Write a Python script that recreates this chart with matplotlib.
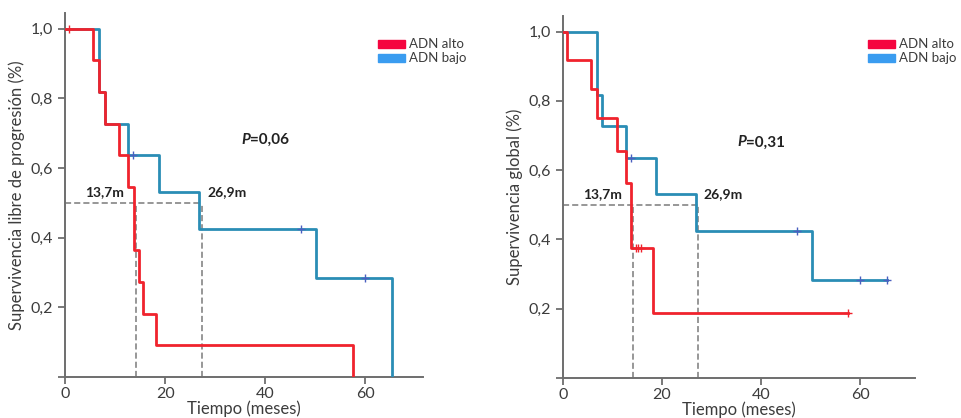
import numpy as np
import matplotlib
matplotlib.use('Agg')
import matplotlib.pyplot as plt
from matplotlib.patches import Rectangle

plt.rcParams['font.family'] = ['Lato', 'DejaVu Sans']

# ---- data (months, survival fraction) ----
# progression-free survival
pfs_alto_t = [0, 5.5, 6.8, 7.9, 10.8, 12.6, 13.7, 14.8, 15.6, 18.1, 57.5]
pfs_alto_s = [1.0, 0.909, 0.818, 0.727, 0.636, 0.545, 0.364, 0.273, 0.182, 0.091, 0.0]
pfs_alto_cens = [0.8]
pfs_bajo_t = [0, 6.8, 7.9, 12.6, 18.7, 26.8, 50.2, 65.4]
pfs_bajo_s = [1.0, 0.818, 0.727, 0.636, 0.530, 0.424, 0.283, 0.0]
pfs_bajo_cens = [13.6, 47.2, 59.9]

# overall survival
os_alto_t = [0, 0.9, 5.6, 6.9, 10.9, 12.7, 13.8, 18.2, 57.6]
os_alto_s = [1.0, 0.917, 0.833, 0.75, 0.656, 0.5625, 0.375, 0.1875, 0.1875]
os_alto_cens = [14.7, 15.2, 15.7, 57.6]
os_bajo_t = [0, 6.9, 7.9, 12.7, 18.8, 26.9, 50.2, 65.5]
os_bajo_s = [1.0, 0.818, 0.727, 0.636, 0.530, 0.424, 0.283, 0.283]
os_bajo_cens = [13.7, 47.2, 60.0, 65.5]

median_labels = ['13,7m', '26,9m']
median_lines = [14.1, 27.3]
p_values = ['0,06', '0,31']
ylabels = ['Supervivencia libre de progresión (%)', 'Supervivencia global (%)']
series_labels = ['ADN alto', 'ADN bajo']

RED = '#f0232d'
BLUE = '#2a8db5'
RED_LEG = '#f5053f'
BLUE_LEG = '#3a9cf0'
AXIS = '#6e6e6e'
TEXT = '#3c3c3c'


def surv_at(t_list, s_list, t):
    idx = np.searchsorted(t_list, t, side='right') - 1
    return s_list[idx]


def draw_panel(ax, alto, bajo, ylabel, pval, xmax):
    (at, as_, ac), (bt, bs, bc) = alto, bajo
    ax.step(bt, bs, where='post', color=BLUE, lw=2.0, zorder=3)
    ax.plot(bc, [surv_at(bt, bs, c) for c in bc], '+', color='#4a5fc0',
            ms=6, mew=1.0, zorder=4)
    ax.step(at, as_, where='post', color=RED, lw=2.0, zorder=5)
    ax.plot(ac, [surv_at(at, as_, c) for c in ac], '+', color=RED,
            ms=6, mew=1.0, zorder=6)

    # median reference lines
    dash = dict(color='#7a7a7a', lw=1.1, ls=(0, (4, 2)), zorder=2)
    ax.plot([0, median_lines[1]], [0.5, 0.5], **dash)
    for m in median_lines:
        ax.plot([m, m], [0, 0.5], **dash)
    ax.text(7.9, 0.53, median_labels[0], ha='center', va='center',
            fontsize=10, fontweight='bold', color='#222222')
    ax.text(32.4, 0.53, median_labels[1], ha='center', va='center',
            fontsize=10, fontweight='bold', color='#222222')
    ax.text(37.0, 0.68, 'P', ha='right', va='center', fontsize=11,
            fontweight='bold', fontstyle='italic', color='#222222')
    ax.text(37.0, 0.68, '=' + pval, ha='left', va='center', fontsize=11,
            fontweight='bold', color='#222222')

    ax.set_xlim(0, xmax)
    ax.set_ylim(0, 1.045)
    ax.set_xticks([0, 20, 40, 60])
    ax.set_yticks([0, 0.2, 0.4, 0.6, 0.8, 1.0])
    ax.set_yticklabels(['', '0,2', '0,4', '0,6', '0,8', '1,0'])
    for s in ['top', 'right']:
        ax.spines[s].set_visible(False)
    for s in ['left', 'bottom']:
        ax.spines[s].set_color(AXIS)
        ax.spines[s].set_linewidth(1.4)
    ax.tick_params(colors=AXIS, labelcolor=TEXT, labelsize=11.5, width=1.3, length=5)
    ax.tick_params(axis='x', pad=2)
    ax.set_ylabel(ylabel, fontsize=12, color=TEXT, labelpad=4)
    ax.set_xlabel('Tiempo (meses)', fontsize=12, color=TEXT, labelpad=0)


fig = plt.figure(figsize=(9.62, 4.18), dpi=100)
ax1 = fig.add_axes([65 / 962, 41 / 418, 358 / 962, 364 / 418])
ax2 = fig.add_axes([563 / 962, 40 / 418, 352 / 962, 362 / 418])

draw_panel(ax1, (pfs_alto_t, pfs_alto_s, pfs_alto_cens),
           (pfs_bajo_t, pfs_bajo_s, pfs_bajo_cens), ylabels[0], p_values[0], 71.5)
draw_panel(ax2, (os_alto_t, os_alto_s, os_alto_cens),
           (os_bajo_t, os_bajo_s, os_bajo_cens), ylabels[1], p_values[1], 71.1)

# legends drawn as figure-level patches (they run past the axes)
for x0 in [378, 868]:
    for i, (lab, col) in enumerate(zip(series_labels, [RED_LEG, BLUE_LEG])):
        yc = 418 - (44 + 14 * i)
        fig.patches.append(Rectangle((x0 / 962, (yc - 4) / 418), 27 / 962, 8 / 418,
                                     transform=fig.transFigure, color=col))
        fig.text((x0 + 31) / 962, yc / 418, lab, ha='left', va='center',
                 fontsize=9.5, color=TEXT)

fig.savefig('out.png', dpi=100)
